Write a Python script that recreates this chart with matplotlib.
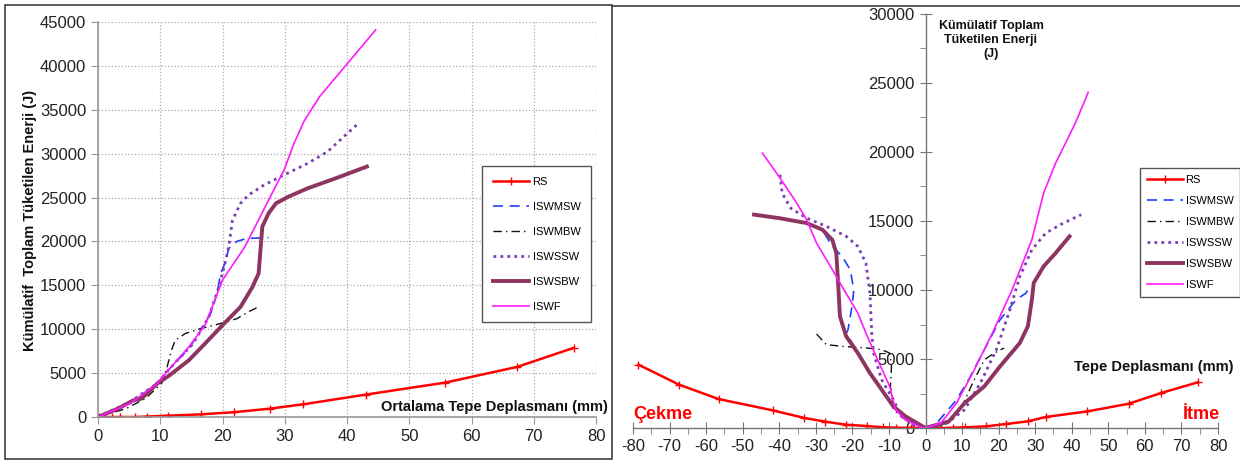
import matplotlib
matplotlib.use("Agg")
import matplotlib.pyplot as plt
from matplotlib.patches import Rectangle
from matplotlib.lines import Line2D
from matplotlib.ticker import MultipleLocator

plt.rcParams['font.family'] = ['Liberation Sans', 'DejaVu Sans']
plt.rcParams['axes.unicode_minus'] = False

# ---------------- Left panel data (average top displacement, mm) ----------------
rs_l_x = [0.2, 1.0, 2.2, 3.6, 5.9, 7.9, 11.2, 16.5, 21.9, 27.6, 33.0, 43.0, 55.8, 67.3, 76.4]
rs_l_y = [0, 0, 0, 0, 0, 50, 150, 300, 550, 950, 1450, 2550, 3920, 5700, 7870]

mssw_l_x = [0, 5.1, 9.5, 11.5, 14.6, 16.5, 18.1, 19.1, 19.7, 20.4, 21.0, 22.3, 23.9, 27.4]
mssw_l_y = [0, 1520, 3800, 5500, 7800, 9900, 11800, 14000, 16360, 17500, 19200, 20000, 20350, 20430]

mbw_l_x = [0, 4.5, 7.6, 10.2, 11.1, 11.8, 12.4, 14.0, 16.5, 19.7, 22.3, 24.2, 25.8]
mbw_l_y = [0, 950, 2100, 3800, 5700, 7600, 8750, 9500, 10080, 10650, 11200, 12000, 12550]

sssw_l_x = [0, 5.1, 9.5, 11.5, 15.3, 17.8, 19.4, 20.4, 21.0, 21.6, 22.9, 24.2, 26.7, 29.9, 33.7, 36.9, 39.5, 41.6]
sssw_l_y = [0, 1700, 3800, 5500, 8370, 11400, 14800, 17500, 19400, 22400, 24350, 25300, 26440, 27580, 28900, 30240, 31950, 33300]

ssbw_l_x = [0, 3.2, 5.7, 7.0, 9.5, 11.5, 14.6, 17.2, 20.0, 22.9, 24.8, 25.8, 26.1, 26.4, 27.4, 28.6, 30.6, 33.7, 38.2, 43.2]
ssbw_l_y = [0, 950, 1900, 2100, 3800, 4750, 6470, 8370, 10460, 12550, 14800, 16350, 19020, 21700, 23200, 24350, 25100, 26060, 27200, 28530]

swf_l_x = [0, 5.1, 9.5, 11.5, 14.6, 17.2, 20.0, 23.6, 27.4, 29.9, 31.5, 33.1, 35.6, 40.1, 44.6]
swf_l_y = [0, 1520, 3800, 5500, 8000, 10460, 15600, 19400, 24700, 28150, 31200, 33700, 36500, 40300, 44100]

# ---------------- Right panel data (top displacement, mm; pull < 0 < push) ----------------
rs_r_x = [-78.5, -67.4, -56.6, -41.8, -33.1, -27.4, -21.8, -16.1, -11.5, -8.0, -4.0, 0, 4.2, 7.5, 10.7, 16.6, 22.0, 28.0, 32.9, 44.2, 55.6, 64.5, 74.5]
rs_r_y = [4590, 3140, 2100, 1280, 725, 460, 240, 145, 50, 24, 10, 0, 0, 20, 50, 120, 290, 480, 800, 1200, 1760, 2540, 3310]

mssw_r_x = [-27.7, -25.5, -22.8, -20.6, -19.6, -20.1, -21.2, -21.6, -18.5, -15.2, -12.0, -8.8, -5.5, 0, 3.1, 8.5, 11.8, 16.1, 20.4, 24.8, 27.5, 28.0]
mssw_r_y = [14130, 13160, 12440, 11470, 10020, 8810, 7120, 6880, 5430, 3980, 2780, 1570, 845, 0, 360, 2050, 3500, 5680, 7850, 9300, 9780, 10020]

mbw_r_x = [-29.8, -27.1, -22.8, -16.3, -12.0, -9.8, -9.3, -9.6, -8.8, -5.5, 0, 5.3, 9.6, 12.9, 16.1, 18.8, 21.5]
mbw_r_y = [6810, 6040, 5920, 5800, 5680, 5430, 4470, 3020, 1330, 600, 0, 240, 1330, 3260, 4950, 5430, 5800]

sssw_r_x = [-39.8, -39.2, -36.9, -32.5, -27.1, -21.7, -18.5, -16.3, -15.2, -14.7, -14.2, -12.0, -8.8, -6.6, -3.4, 0, 5.3, 10.7, 15.0, 19.4, 23.1, 25.8, 29.1, 32.9, 37.7, 42.6]
sssw_r_y = [18350, 17020, 15940, 15210, 14610, 13890, 13160, 11950, 9780, 6880, 5430, 3500, 2050, 845, 240, 0, 240, 1330, 3260, 5680, 8570, 10990, 12920, 14130, 14850, 15460]

ssbw_r_x = [-46.9, -40.1, -32.5, -28.2, -25.5, -24.4, -23.9, -23.4, -21.7, -18.5, -15.2, -12.0, -8.8, -5.5, 0, 6.4, 10.7, 16.1, 20.4, 25.8, 28.0, 29.1, 29.6, 32.3, 35.6, 39.4]
ssbw_r_y = [15460, 15210, 14850, 14370, 13640, 12680, 10510, 8090, 6640, 5430, 3980, 2780, 1570, 845, 0, 480, 1810, 3020, 4470, 6160, 7370, 9300, 10510, 11710, 12680, 13890]

swf_r_x = [-44.6, -40.1, -35.8, -32.5, -29.8, -26.0, -22.3, -18.5, -16.3, -13.1, -9.8, -8.2, -5.5, -1.2, 0, 4.2, 8.5, 12.9, 18.3, 23.7, 29.1, 32.3, 35.6, 41.0, 44.5]
swf_r_y = [19920, 18230, 16540, 15090, 13400, 11710, 10020, 8330, 6880, 4950, 3020, 1330, 600, 50, 0, 360, 1810, 3980, 6880, 10020, 13640, 17020, 19200, 22100, 24320]

labels = ['RS', 'ISWMSW', 'ISWMBW', 'ISWSSW', 'ISWSBW', 'ISWF']
styles = [
    dict(color='#ff0000', lw=1.8, marker='+', ms=6, mew=1.0),
    dict(color='#1f3fff', lw=1.2, linestyle=(0, (6, 4))),
    dict(color='#111111', lw=1.0, linestyle=(0, (6, 3, 1, 3))),
    dict(color='#7a3fb5', lw=2.0, linestyle=(0, (1, 1.5))),
    dict(color='#8e3461', lw=2.8),
    dict(color='#ff1aff', lw=1.2),
]

W, H = 1240, 461
fig = plt.figure(figsize=(W / 100, H / 100), dpi=100)

def fx(px):
    return px / W

def fy(py):
    return 1 - py / H

# ---------------- Left axes ----------------
axL = fig.add_axes([fx(98), fy(417), (596 - 98) / W, (417 - 22) / H])
left_series = [(rs_l_x, rs_l_y), (mssw_l_x, mssw_l_y), (mbw_l_x, mbw_l_y),
               (sssw_l_x, sssw_l_y), (ssbw_l_x, ssbw_l_y), (swf_l_x, swf_l_y)]
for (x, y), lab, st in zip(left_series, labels, styles):
    axL.plot(x, y, label=lab, **st)
axL.set_xlim(0, 80)
axL.set_ylim(0, 45000)
axL.xaxis.set_major_locator(MultipleLocator(10))
axL.yaxis.set_major_locator(MultipleLocator(5000))
axL.grid(True, color='#aaaaaa', linestyle=':', lw=0.9)
for s in ['top', 'right']:
    axL.spines[s].set_visible(False)
for s in ['left', 'bottom']:
    axL.spines[s].set_color('#999999')
    axL.spines[s].set_linewidth(1.2)
axL.tick_params(axis='both', colors='#999999', length=5, labelsize=12, labelcolor='#222222')
axL.legend(loc='upper left', bbox_to_anchor=(fx(482), fy(166)), bbox_transform=fig.transFigure,
           fontsize=8, frameon=True, fancybox=False, edgecolor='#555555', framealpha=1,
           handlelength=3.3, labelspacing=1.35, borderpad=0.95, handletextpad=0.3,
           borderaxespad=0)
axL.get_legend().get_frame().set_linewidth(1.0)

fig.text(fx(30), fy(220), 'Kümülatif  Toplam Tüketilen Enerji (J)', rotation=90,
         ha='center', va='center', fontsize=10.5, fontweight='bold', color='#111111')
fig.text(fx(608), fy(407), 'Ortalama Tepe Deplasmanı (mm)', ha='right', va='center',
         fontsize=10.5, fontweight='bold', color='#111111')

# ---------------- Right axes ----------------
axR = fig.add_axes([fx(633), fy(428), (1218 - 633) / W, (428 - 14) / H])
right_series = [(rs_r_x, rs_r_y), (mssw_r_x, mssw_r_y), (mbw_r_x, mbw_r_y),
                (sssw_r_x, sssw_r_y), (ssbw_r_x, ssbw_r_y), (swf_r_x, swf_r_y)]
for (x, y), lab, st in zip(right_series, labels, styles):
    axR.plot(x, y, label=lab, **st)
axR.set_xlim(-80, 80)
axR.set_ylim(0, 30000)
axR.spines['left'].set_position(('data', 0))
axR.spines['bottom'].set_position(('data', 0))
for s in ['top', 'right']:
    axR.spines[s].set_visible(False)
for s in ['left', 'bottom']:
    axR.spines[s].set_color('#777777')
    axR.spines[s].set_linewidth(1.0)
axR.xaxis.set_major_locator(MultipleLocator(10))
axR.xaxis.set_minor_locator(MultipleLocator(5))
axR.yaxis.set_major_locator(MultipleLocator(5000))
axR.yaxis.set_minor_locator(MultipleLocator(2500))
axR.tick_params(axis='both', which='major', direction='inout', length=9, colors='#777777',
                labelsize=12, labelcolor='#222222')
axR.tick_params(axis='both', which='minor', direction='out', length=4, colors='#777777')
axR.set_zorder(1)
axR.legend(loc='upper left', bbox_to_anchor=(fx(1140), fy(168)), bbox_transform=fig.transFigure,
           fontsize=8, frameon=True, fancybox=False, edgecolor='#555555', framealpha=1,
           handlelength=3.3, labelspacing=1.0, borderpad=0.6, handletextpad=0.2,
           borderaxespad=0)
axR.get_legend().get_frame().set_linewidth(1.0)

fig.text(fx(991), fy(20), 'Kümülatif Toplam\nTüketilen Enerji\n(J)', ha='center', va='top',
         fontsize=9, fontweight='bold', linespacing=1.25, color='#111111')
fig.text(fx(1233), fy(367), 'Tepe Deplasmanı (mm)', ha='right', va='center',
         fontsize=10.5, fontweight='bold', color='#111111')
fig.text(fx(633), fy(414), 'Çekme', ha='left', va='center', fontsize=13,
         fontweight='bold', color='#ff0000')
fig.text(fx(1220), fy(414), 'İtme', ha='right', va='center', fontsize=13,
         fontweight='bold', color='#ff0000')

# ---------------- Frames ----------------
fig.add_artist(Rectangle((fx(5), fy(459)), (612 - 5) / W, (459 - 5) / H, fill=False,
                         transform=fig.transFigure, ec='#404040', lw=1.2))
fig.add_artist(Line2D([fx(612), 1], [fy(6), fy(6)], transform=fig.transFigure,
                      color='#404040', lw=1.2))

fig.savefig('out.png', dpi=100)
